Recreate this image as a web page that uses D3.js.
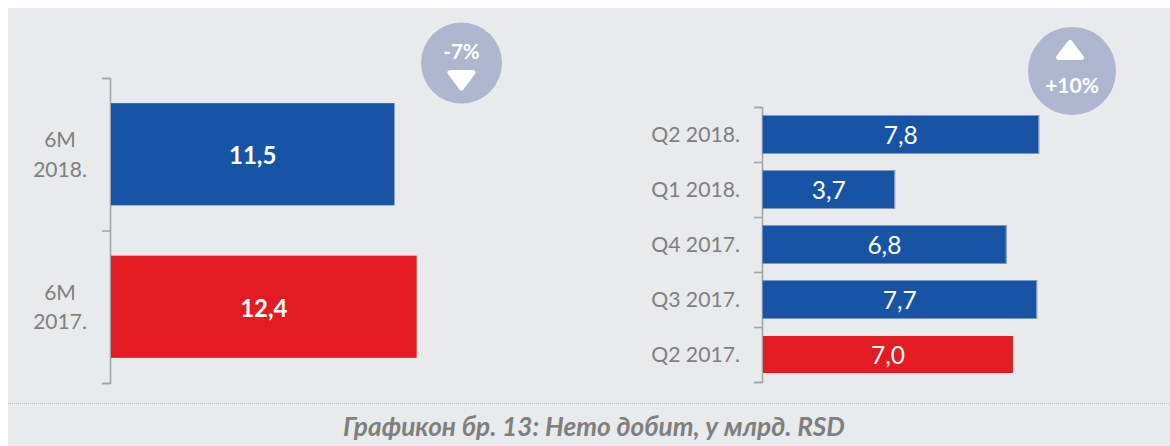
<!DOCTYPE html>
<html>
<head>
<meta charset="utf-8">
<script src="https://cdn.jsdelivr.net/npm/d3@7/dist/d3.min.js"></script>
<style>
  html, body { margin: 0; padding: 0; background: #fff; }
  svg { display: block; }
  text { font-family: Lato, "Open Sans", sans-serif; }
</style>
</head>
<body>
<svg id="chart" width="1170" height="446"></svg>
<script>
const blue = "#1854a5";
const red = "#e31b23";

const halfLabels = ["6M 2018.", "6M 2017."];
const halfValues = [11.5, 12.4];
const halfColors = [blue, red];

const quarterLabels = ["Q2 2018.", "Q1 2018.", "Q4 2017.", "Q3 2017.", "Q2 2017."];
const quarterValues = [7.76, 3.7, 6.84, 7.7, 7.04]; // unrounded, from bar lengths
const quarterColors = [blue, blue, blue, blue, red];

const caption = "Графикон бр. 13: Нето добит, у млрд. RSD";

const grey = "#7f7f7f";
const axisGrey = "#a6a6a6";
const comma = d => d.toFixed(1).replace(".", ",");

const svg = d3.select("#chart");

// background panel
svg.append("rect")
  .attr("x", 8).attr("y", 8)
  .attr("width", 1162).attr("height", 438)
  .attr("fill", "#e9eaec");

svg.append("line")
  .attr("x1", 8).attr("x2", 1170)
  .attr("y1", 403.5).attr("y2", 403.5)
  .attr("stroke", "#b9b9b9")
  .attr("stroke-dasharray", "1,1");

svg.append("text")
  .attr("x", 594).attr("y", 436)
  .attr("text-anchor", "middle")
  .attr("fill", grey)
  .style("font-size", "26.2px")
  .style("font-weight", 700)
  .style("font-style", "italic")
  .text(caption);

function barPanel(opts) {
  const { labels, values, colors, x0, k, top, bottom, padding } = opts;

  const x = d3.scaleLinear().domain([0, 1]).range([x0, x0 + k]);
  const y = d3.scaleBand().domain(labels).range([top, bottom])
    .paddingInner(padding).paddingOuter(padding / 2);
  const edge = d3.scaleLinear().domain([0, labels.length]).range([top, bottom]);

  // bracket axis: ticks sit between the categories
  const axis = svg.append("g")
    .attr("transform", `translate(${x0 - 1},0)`)
    .call(d3.axisLeft(edge).tickValues(d3.range(labels.length + 1)).tickFormat("").tickSize(8).tickSizeOuter(8));
  axis.selectAll("path,line").attr("stroke", axisGrey).attr("stroke-width", 1.6);

  const rows = svg.append("g").selectAll("g")
    .data(labels)
    .join("g");

  rows.append("rect")
    .attr("x", x0)
    .attr("y", d => y(d))
    .attr("width", (d, i) => x(values[i]) - x0)
    .attr("height", y.bandwidth())
    .attr("fill", (d, i) => colors[i]);

  // the blue quarter bars have a thin lighter edge
  if (opts.outline) {
    rows.filter((d, i) => colors[i] === blue).append("rect")
      .attr("x", x0 - 0.5)
      .attr("y", d => y(d) - 0.5)
      .attr("width", d => x(values[labels.indexOf(d)]) - x0 + 1)
      .attr("height", y.bandwidth() + 1)
      .attr("fill", "none")
      .attr("stroke", "#5f86c0")
      .attr("stroke-width", 0.8);
  }

  rows.append("text")
    .attr("x", (d, i) => (x0 + x(values[i])) / 2)
    .attr("y", d => y(d) + y.bandwidth() / 2 + opts.valueShift)
    .attr("dy", "0.36em")
    .attr("text-anchor", "middle")
    .attr("fill", "#fff")
    .style("font-size", opts.valueSize)
    .style("font-weight", opts.valueWeight)
    .text((d, i) => comma(values[i]));

  return y;
}

const yHalf = barPanel({
  labels: halfLabels, values: halfValues, colors: halfColors,
  x0: 111, k: 24.65, top: 78, bottom: 383, padding: 0.33,
  valueSize: "24px", valueWeight: 700, valueShift: 1.5
});

const yQuarter = barPanel({
  labels: quarterLabels, values: quarterValues, colors: quarterColors,
  x0: 763, k: 35.5, top: 107, bottom: 382, padding: 0.327,
  valueSize: "24.5px", valueWeight: 400, valueShift: 1, outline: true
});

// category labels
svg.append("g").selectAll("text")
  .data(halfLabels)
  .join("text")
  .attr("x", 60)
  .attr("y", d => yHalf(d) + yHalf.bandwidth() / 2)
  .attr("text-anchor", "middle")
  .attr("fill", grey)
  .style("font-size", "21px")
  .selectAll("tspan")
  .data(d => d.split(" "))
  .join("tspan")
  .attr("x", 60)
  .attr("dy", (d, i) => i ? 29.5 : -7)
  .text(d => d);

svg.append("g").selectAll("text")
  .data(quarterLabels)
  .join("text")
  .attr("x", 740)
  .attr("y", d => yQuarter(d) + yQuarter.bandwidth() / 2)
  .attr("dy", "0.36em")
  .attr("text-anchor", "end")
  .attr("fill", grey)
  .style("font-size", "21.2px")
  .text(d => d);

// change badges
function badge(cx, cy, r, label, up) {
  const g = svg.append("g").attr("transform", `translate(${cx},${cy})`);
  g.append("circle").attr("r", r).attr("fill", "#aeb6d0");
  g.append("path")
    .attr("d", up ? "M-13.5,-13.5L9.5,-13.5L-2,-28.5Z" : "M-11.5,9.5L11.5,9.5L0,25Z")
    .attr("fill", "#fff")
    .attr("stroke", "#fff")
    .attr("stroke-width", 5)
    .attr("stroke-linejoin", "round");
  g.append("text")
    .attr("y", up ? 22 : -4)
    .attr("text-anchor", "middle")
    .attr("fill", "#fff")
    .style("font-size", up ? "21px" : "20.5px")
    .style("font-weight", 700)
    .text(label);
}
badge(461.5, 63, 40.5, "-7%", false);
badge(1072, 71, 44, "+10%", true);
</script>
</body>
</html>
